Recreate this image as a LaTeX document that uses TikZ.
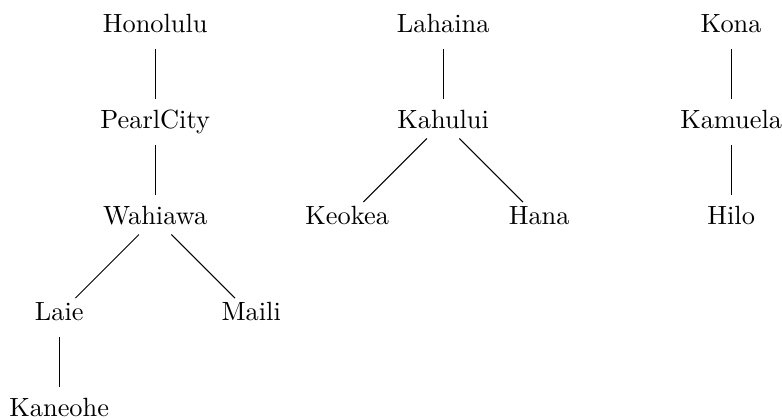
\documentclass[tikz,border=0pt]{standalone}
\usepackage{tikz}
\usepackage{amsmath}

\begin{document}
\begin{tikzpicture}[x=1.28cm,y=1.28cm,
  town/.style={text height=7.8pt,text depth=3pt},
  link/.style={shorten <=8.7pt,shorten >=8.7pt}]
\useasboundingbox (-0.617,0.274) rectangle (7.53,-4.075);
\node[town] (honolulu) at (1,0) {Honolulu};
\node[town] (pearlcity) at (1,-1) {PearlCity};
\node[town] (wahiawa) at (1,-2) {Wahiawa};
\node[town] (laie) at (0,-3) {Laie};
\node[town] (maili) at (2,-3) {Maili};
\node[town] (kaneohe) at (0,-4) {Kaneohe};
\node[town] (lahaina) at (4,0) {Lahaina};
\node[town] (kahului) at (4,-1) {Kahului};
\node[town] (keokea) at (3,-2) {Keokea};
\node[town] (hana) at (5,-2) {Hana};
\node[town] (kona) at (7,0) {Kona};
\node[town] (kamuela) at (7,-1) {Kamuela};
\node[town] (hilo) at (7,-2) {Hilo};
\draw[link] (honolulu.center) -- (pearlcity.center);
\draw[link] (pearlcity.center) -- (wahiawa.center);
\draw[link] (wahiawa.center) -- (laie.center);
\draw[link] (wahiawa.center) -- (maili.center);
\draw[link] (laie.center) -- (kaneohe.center);
\draw[link] (lahaina.center) -- (kahului.center);
\draw[link] (kahului.center) -- (keokea.center);
\draw[link] (kahului.center) -- (hana.center);
\draw[link] (kona.center) -- (kamuela.center);
\draw[link] (kamuela.center) -- (hilo.center);
\end{tikzpicture}
\end{document}
